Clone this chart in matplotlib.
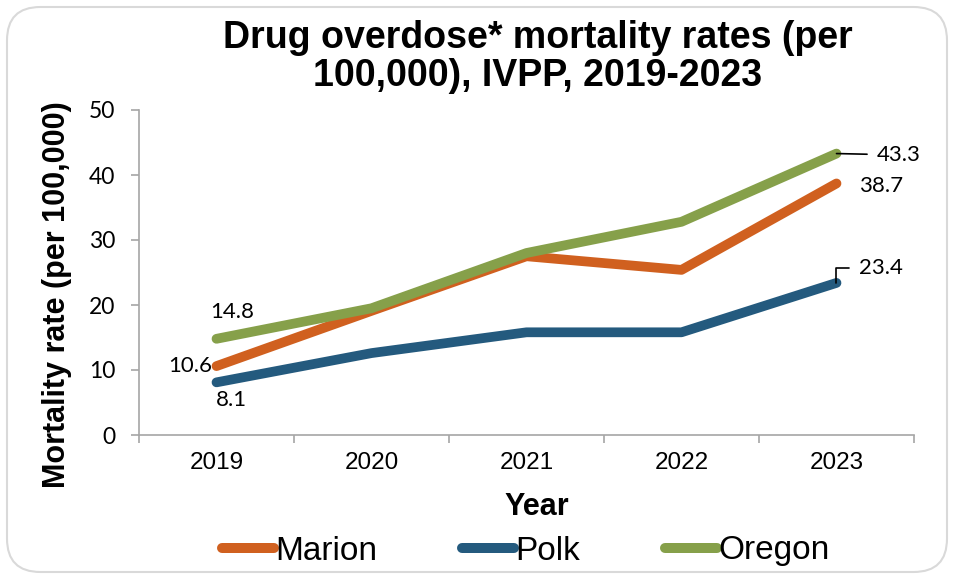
import matplotlib.pyplot as plt
from matplotlib.patches import FancyBboxPatch
from matplotlib.lines import Line2D

# data
years = ["2019", "2020", "2021", "2022", "2023"]
marion = [10.6, 19.1, 27.5, 25.4, 38.7]
polk = [8.1, 12.6, 15.8, 15.8, 23.4]
oregon = [14.8, 19.5, 28.0, 32.8, 43.3]

c_marion = "#D0601F"
c_polk = "#245A7E"
c_oregon = "#86A04A"
axis_gray = "#A6A6A6"
label_font = ["Lato", "DejaVu Sans"]
arial = ["Liberation Sans", "DejaVu Sans"]

fig = plt.figure(figsize=(9.54, 5.80), dpi=100)
ax = fig.add_axes([139 / 954, 1 - 435 / 580, 775 / 954, 325 / 580])

# rounded frame around the whole chart
fig.patches.append(FancyBboxPatch((7 / 954, 8 / 580), 940 / 954, 565 / 580,
                                  boxstyle="round,pad=0,rounding_size=0.035",
                                  transform=fig.transFigure, fill=False,
                                  edgecolor="#D9D9D9", linewidth=1.5,
                                  mutation_aspect=954 / 580))

x = list(range(len(years)))
for vals, col in [(marion, c_marion), (polk, c_polk), (oregon, c_oregon)]:
    ax.plot(x, vals, color=col, lw=7, solid_capstyle="round",
            solid_joinstyle="round")

ax.set_xlim(-0.5, 4.5)
ax.set_ylim(0, 50)
ax.set_yticks(range(0, 51, 10))
ax.set_yticklabels([str(v) for v in range(0, 51, 10)], family=label_font, fontsize=16.5)
ax.set_xticks(x)
ax.set_xticks([i - 0.5 for i in range(6)], minor=True)
ax.set_xticklabels(years, family=arial, fontsize=17.5)
ax.tick_params(axis="x", which="major", length=0, pad=12)
ax.tick_params(axis="x", which="minor", length=6, color=axis_gray, width=1.2)
ax.tick_params(axis="y", length=6, color=axis_gray, width=1.2, pad=11)

for side in ["top", "right"]:
    ax.spines[side].set_visible(False)
for side in ["left", "bottom"]:
    ax.spines[side].set_color(axis_gray)
    ax.spines[side].set_linewidth(1.2)

# data labels
lbl = dict(family=label_font, fontsize=16, color="black")
ax.annotate("14.8", (0, oregon[0]), xytext=(11, 19.5), textcoords="offset points",
            ha="center", va="center", **lbl)
ax.annotate("10.6", (0, marion[0]), xytext=(-19, 0), textcoords="offset points",
            ha="center", va="center", **lbl)
ax.annotate("8.1", (0, polk[0]), xytext=(11, -13), textcoords="offset points",
            ha="center", va="center", **lbl)
ax.annotate("43.3", (4, oregon[4]), xytext=(29, -1), textcoords="offset points",
            ha="left", va="center",
            arrowprops=dict(arrowstyle="-", color="black", lw=1.2,
                            shrinkA=5, shrinkB=0), **lbl)
ax.annotate("38.7", (4, marion[4]), xytext=(16, -1.5), textcoords="offset points",
            ha="left", va="center", **lbl)
ax.annotate("23.4", (4, polk[4]), xytext=(16, 11), textcoords="offset points",
            ha="left", va="center",
            arrowprops=dict(arrowstyle="-", color="black", lw=1.2,
                            shrinkA=5, shrinkB=0,
                            connectionstyle="angle,angleA=0,angleB=90,rad=0"), **lbl)

fig.text(538 / 954, 1 - 57 / 580, "Drug overdose* mortality rates (per\n100,000), IVPP, 2019-2023",
         ha="center", va="center", family=arial, fontsize=27, fontweight="bold",
         linespacing=1.05)
fig.text(57 / 954, 1 - 295 / 580, "Mortality rate (per 100,000)", rotation=90,
         ha="center", va="center", family=arial, fontsize=22, fontweight="bold")
fig.text(537 / 954, 1 - 507 / 580, "Year", ha="center", va="center",
         family=arial, fontsize=22, fontweight="bold")

handles = [Line2D([], [], color=c, lw=7.2, solid_capstyle="round")
           for c in (c_marion, c_polk, c_oregon)]
fig.legend(handles, ["Marion", "Polk", "Oregon"], loc="center",
           bbox_to_anchor=(526 / 954, 1 - 551 / 580), ncol=3, frameon=False,
           prop=dict(family=arial, size=24), handlelength=1.55,
           handletextpad=0.05, columnspacing=2.55)

fig.savefig("out.png", dpi=100)
